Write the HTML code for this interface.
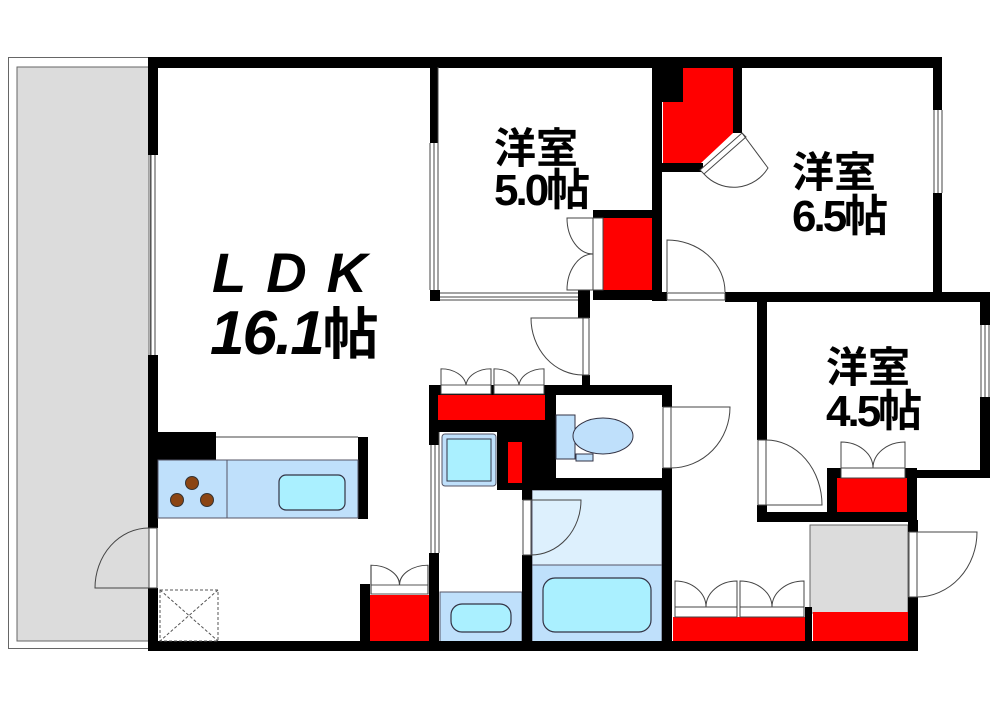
<!DOCTYPE html>
<html><head><meta charset="utf-8"><style>
html,body{margin:0;padding:0;background:#fff;width:1000px;height:707px;overflow:hidden}
svg{display:block}
.t{font-family:"Liberation Sans","Noto Sans CJK JP",sans-serif;font-weight:bold;fill:#000}
</style></head><body>
<svg width="1000" height="707" viewBox="0 0 1000 707" xmlns="http://www.w3.org/2000/svg">
<!-- balcony -->
<rect x="8.5" y="57.5" width="142" height="591" fill="#fff" stroke="#666" stroke-width="1"/>
<rect x="17" y="67" width="132" height="574" fill="#dcdcdc" stroke="#666" stroke-width="1"/>

<rect x="158" y="67" width="750" height="575" fill="#fff"/>

<rect x="532" y="490" width="130" height="75" fill="#ddf0fd" stroke="#556" stroke-width="1"/>
<rect x="532" y="565" width="130" height="77" fill="#bfe0fb" stroke="#556" stroke-width="1"/>
<rect x="543" y="578" width="108" height="54" rx="12" fill="#aaf0ff" stroke="#334" stroke-width="1.2"/>
<rect x="440" y="592" width="82" height="50" fill="#bfe0fb" stroke="#556" stroke-width="1"/>
<rect x="451" y="604" width="60" height="28" rx="11" fill="#aaf0ff" stroke="#334" stroke-width="1.2"/>
<rect x="810" y="525" width="98" height="88" fill="#dcdcdc" stroke="#666" stroke-width="1"/>

<g fill="#000">
<rect x="148" y="57" width="794" height="11"/>
<rect x="148" y="57" width="10" height="98"/>
<rect x="148" y="355" width="10" height="173"/>
<rect x="148" y="588" width="10" height="62"/>
<rect x="148" y="641" width="770" height="10"/>
<rect x="430" y="57" width="8" height="86"/>
<rect x="430" y="290" width="10" height="11"/>
<rect x="578" y="290" width="12" height="28"/>
<rect x="652" y="57" width="10" height="243"/>
<rect x="652" y="57" width="31" height="45"/>
<rect x="593" y="210" width="60" height="8"/>
<rect x="593" y="290" width="60" height="10"/>
<rect x="661" y="163" width="42" height="9"/>
<rect x="733" y="57" width="9" height="76"/>
<rect x="933" y="57" width="9" height="53"/>
<rect x="933" y="193" width="9" height="107"/>
<rect x="652" y="292" width="15" height="9"/>
<rect x="725" y="292" width="265" height="10"/>
<rect x="757" y="295" width="10" height="145"/>
<rect x="757" y="505" width="10" height="17"/>
<rect x="980" y="295" width="10" height="30"/>
<rect x="980" y="397" width="10" height="81"/>
<rect x="915" y="470" width="75" height="8"/>
<rect x="827" y="468" width="90" height="10"/>
<rect x="827" y="468" width="10" height="54"/>
<rect x="907" y="468" width="10" height="54"/>
<rect x="757" y="512" width="160" height="10"/>
<rect x="908" y="520" width="10" height="12"/>
<rect x="908" y="597" width="10" height="54"/>
<rect x="805" y="607" width="7" height="44"/>
<rect x="582" y="300" width="8" height="18"/>
<rect x="582" y="375" width="8" height="12"/>
<rect x="429" y="385" width="243" height="10"/>
<rect x="429" y="385" width="10" height="60"/>
<rect x="429" y="553" width="10" height="98"/>
<rect x="438" y="420" width="118" height="12"/>
<rect x="497" y="420" width="59" height="70"/>
<rect x="545" y="385" width="11" height="105"/>
<rect x="545" y="478" width="127" height="12"/>
<rect x="662" y="385" width="10" height="22"/>
<rect x="662" y="468" width="10" height="183"/>
<rect x="522" y="490" width="10" height="10"/>
<rect x="522" y="555" width="10" height="96"/>
<rect x="158" y="432" width="58" height="29"/>
<rect x="358" y="437" width="10" height="82"/>
<rect x="360" y="584" width="10" height="60"/>
</g>

<g fill="none" stroke="#444" stroke-width="1">
<line x1="151" y1="155" x2="151" y2="355"/><line x1="155" y1="155" x2="155" y2="355"/>
<line x1="430" y1="143" x2="430" y2="290"/><line x1="434" y1="143" x2="434" y2="290"/><line x1="438" y1="67" x2="438" y2="290"/>
<line x1="440" y1="293" x2="578" y2="293"/><line x1="440" y1="297" x2="578" y2="297"/><line x1="440" y1="300" x2="578" y2="300"/>
<line x1="934" y1="110" x2="934" y2="193"/><line x1="938" y1="110" x2="938" y2="193"/><line x1="942" y1="110" x2="942" y2="193"/>
<line x1="981" y1="325" x2="981" y2="397"/><line x1="985" y1="325" x2="985" y2="397"/><line x1="989" y1="325" x2="989" y2="397"/>
<line x1="431" y1="445" x2="431" y2="553"/><line x1="435" y1="445" x2="435" y2="553"/><line x1="439" y1="432" x2="439" y2="553"/>
<line x1="216" y1="437" x2="358" y2="437"/>
</g>

<g fill="#ff0000">
<polygon points="683,68 733,68 733,133 701,163 663,163 663,102 683,102"/>
<rect x="603" y="218" width="49" height="72"/>
<rect x="438" y="395" width="107" height="25"/>
<rect x="508" y="442" width="14" height="41"/>
<rect x="370" y="595" width="59" height="46"/>
<rect x="673" y="617" width="132" height="24"/>
<rect x="813" y="612" width="95" height="29"/>
<rect x="837" y="478" width="70" height="34"/>
</g>

<rect x="158" y="460" width="200" height="58" fill="#bfe0fb" stroke="#556" stroke-width="1"/>
<line x1="227" y1="460" x2="227" y2="518" stroke="#556"/>
<rect x="279" y="475" width="66" height="35" rx="7" fill="#aaf0ff" stroke="#334" stroke-width="1.2"/>
<g fill="#8b4513" stroke="#333" stroke-width="1"><circle cx="192" cy="483" r="6.5"/><circle cx="177" cy="500" r="6.5"/><circle cx="207" cy="500" r="6.5"/></g>
<g fill="none" stroke="#555" stroke-dasharray="3,2"><rect x="160" y="590" width="58" height="51"/><line x1="160" y1="590" x2="218" y2="641"/><line x1="218" y1="590" x2="160" y2="641"/></g>

<rect x="442" y="434" width="54" height="52" rx="3" fill="#bfe0fb" stroke="#556"/>
<rect x="447" y="439" width="44" height="42" fill="#aaf0ff" stroke="#334"/>
<rect x="556" y="415" width="19" height="44" fill="#bfe0fb" stroke="#334"/>
<rect x="576" y="454" width="17" height="7" fill="#bfe0fb" stroke="#334"/>
<ellipse cx="603" cy="436" rx="30" ry="18" fill="#bfe0fb" stroke="#334"/>

<g fill="#fff" stroke="#444" stroke-width="1">
<rect x="149" y="528" width="8" height="60"/>
<path d="M149 588 L95 588 A54 60 0 0 1 149 528" fill="none"/>
<rect x="583" y="318" width="6" height="57"/>
<path d="M583 375 A52 57 0 0 1 531 318 L583 318" fill="none"/>
<rect x="667" y="293" width="58" height="7"/>
<path d="M667 292 L667 240 A58 52 0 0 1 725 292" fill="none"/>
<polygon points="742,133 746,137 704,174 700,170"/>
<path d="M742 133 L768 168 A40 40 0 0 1 704 174" fill="none"/>
<rect x="593" y="218" width="10" height="72"/>
<path d="M593 218 L567 218 A26 36 0 0 0 593 254 A26 36 0 0 0 567 290 L593 290" fill="none"/>
<rect x="663" y="407" width="8" height="61"/>
<path d="M671 407 L730 407 A59 61 0 0 1 671 468" fill="none"/>
<rect x="523" y="500" width="8" height="55"/>
<path d="M531 500 L581 500 A50 55 0 0 1 531 555" fill="none"/>
<rect x="758" y="440" width="8" height="65"/>
<path d="M766 440 A56 65 0 0 1 822 505 L766 505" fill="none"/>
<rect x="909" y="532" width="8" height="65"/>
<path d="M917 532 L977 532 A60 65 0 0 1 917 597" fill="none"/>
</g>

<g fill="none" stroke="#444" stroke-width="1">
<g transform="translate(441,385) scale(1,0.9)"><rect x="0" y="0" width="50" height="10" fill="#fff"/><path d="M0 0 L0 -18 A25 20 0 0 1 25 0 A25 20 0 0 1 50 -18 L50 0"/></g>
<g transform="translate(494,385) scale(1,0.9)"><rect x="0" y="0" width="50" height="10" fill="#fff"/><path d="M0 0 L0 -18 A25 20 0 0 1 25 0 A25 20 0 0 1 50 -18 L50 0"/></g>
<g transform="translate(371,585) scale(1.14,0.9)"><rect x="0" y="0" width="50" height="10" fill="#fff"/><path d="M0 0 L0 -22 A25 22 0 0 1 25 0 A25 22 0 0 1 50 -22 L50 0"/></g>
<g transform="translate(675,607)"><rect x="0" y="0" width="62" height="10" fill="#fff"/><path d="M0 0 L0 -26 A31 26 0 0 1 31 0 A31 26 0 0 1 62 -26 L62 0"/></g>
<g transform="translate(740,607)"><rect x="0" y="0" width="64" height="10" fill="#fff"/><path d="M0 0 L0 -26 A32 26 0 0 1 32 0 A32 26 0 0 1 64 -26 L64 0"/></g>
<g transform="translate(841,468)"><rect x="0" y="0" width="64" height="10" fill="#fff"/><path d="M0 0 L0 -26 A32 26 0 0 1 32 0 A32 26 0 0 1 64 -26 L64 0"/></g>
</g>

<text class="t" x="212" y="292" font-size="56" letter-spacing="20" font-style="italic">LDK</text>
<text class="t" x="210" y="354" font-size="62" font-style="italic" letter-spacing="-2">16.1<tspan font-style="normal" font-size="56">帖</tspan></text>
<text class="t" x="494" y="163" font-size="42">洋室</text>
<text class="t" x="494" y="205" font-size="44" letter-spacing="-3">5.0帖</text>
<text class="t" x="792" y="187" font-size="42">洋室</text>
<text class="t" x="792" y="231" font-size="44" letter-spacing="-3">6.5帖</text>
<text class="t" x="826" y="382" font-size="42">洋室</text>
<text class="t" x="826" y="426" font-size="44" letter-spacing="-3">4.5帖</text>
</svg>
</body></html>
